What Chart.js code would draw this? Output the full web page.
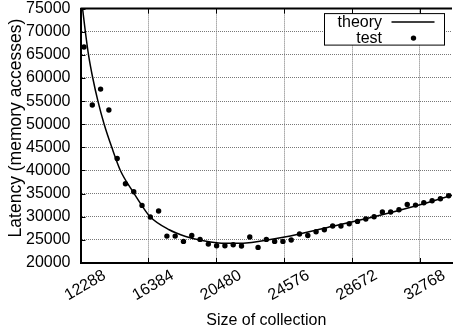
<!DOCTYPE html>
<html>
<head>
<meta charset="utf-8">
<title>Latency vs size of collection</title>
<script src="https://cdn.jsdelivr.net/npm/chart.js@4.4.0/dist/chart.umd.min.js"></script>
<style>
  html, body { margin: 0; padding: 0; background: #fff; }
  #wrap { width: 456px; height: 333px; position: relative; }
</style>
</head>
<body>
<div id="wrap"><canvas id="latencyChart"></canvas></div>
<script>
// measured latency per collection size
const sizes = [12500, 13000, 13500, 14000, 14500, 15000, 15500, 16000, 16500, 17000,
  17500, 18000, 18500, 19000, 19500, 20000, 20500, 21000, 21500, 22000,
  22500, 23000, 23500, 24000, 24500, 25000, 25500, 26000, 26500, 27000,
  27500, 28000, 28500, 29000, 29500, 30000, 30500, 31000, 31500, 32000,
  32500, 33000, 33500, 34000, 34500];
const latency = [66700, 54150, 57600, 53070, 42600, 37130, 35400, 32450, 29930, 31230,
  25820, 25820, 24670, 25960, 25100, 24090, 23730, 23730, 23950, 23660,
  25610, 23370, 25100, 24670, 24670, 24960, 26260, 25960, 26760, 27190,
  27990, 27990, 28490, 28990, 29500, 30000, 31010, 31010, 31510, 32660,
  32520, 33030, 33460, 33890, 34540];

// model curve
const theorySizes = [12288, 12413, 12581, 12772, 13028, 13340, 13715, 14175, 14694, 15470,
  15984, 16486, 17638, 18635, 19626, 20623, 21600, 22612, 24606, 27191,
  30000, 32768, 34700];
const theoryLatency = [78300, 75000, 70000, 65000, 60000, 55000, 50000, 45000, 40000, 35300,
  32440, 30000, 27190, 25740, 24850, 24350, 24250, 24450, 25610, 27690,
  30000, 32600, 34650];

const xTicks = [12288, 16384, 20480, 24576, 28672, 32768];
const yTicks = [20000, 25000, 30000, 35000, 40000, 45000, 50000, 55000, 60000, 65000, 70000, 75000];
const seriesNames = ['theory', 'test'];
const yTitle = 'Latency (memory accesses)';

const FONT = "'Liberation Sans', Arial, Helvetica, sans-serif";
Chart.defaults.font.family = FONT;
Chart.defaults.font.size = 16;
Chart.defaults.color = '#000';

// top border, inward tick marks, y title and the boxed key
const framePlugin = {
  id: 'frame',
  afterDraw(chart) {
    const { ctx, chartArea: a, scales: { x, y } } = chart;
    ctx.save();
    ctx.strokeStyle = '#000';
    ctx.lineWidth = 1;
    ctx.beginPath();
    xTicks.forEach(v => {
      const px = Math.round(x.getPixelForValue(v)) + 0.5;
      ctx.moveTo(px, a.bottom); ctx.lineTo(px, a.bottom - 5);
      ctx.moveTo(px, a.top); ctx.lineTo(px, a.top + 5);
    });
    yTicks.forEach(v => {
      const py = Math.round(y.getPixelForValue(v)) + 0.5;
      ctx.moveTo(a.left, py); ctx.lineTo(a.left + 5, py);
    });
    ctx.stroke();

    ctx.lineWidth = 2;
    ctx.beginPath();
    ctx.moveTo(a.left, a.top);
    ctx.lineTo(a.right, a.top);
    ctx.stroke();

    // y axis title, a little above the plot centre
    ctx.fillStyle = '#000';
    ctx.save();
    ctx.translate(16, 128);
    ctx.rotate(-Math.PI / 2);
    ctx.font = '17.5px ' + FONT;
    ctx.textAlign = 'center';
    ctx.textBaseline = 'middle';
    ctx.fillText(yTitle, 0, 0);
    ctx.restore();

    // key box
    const bx = a.right - 127.5, by = a.top + 5, bw = 120, bh = 31.5;
    ctx.fillStyle = '#fff';
    ctx.fillRect(bx, by, bw, bh);
    ctx.lineWidth = 1;
    ctx.strokeRect(bx, by, bw, bh);
    ctx.fillStyle = '#000';
    ctx.font = '16px ' + FONT;
    ctx.textAlign = 'right';
    ctx.textBaseline = 'middle';
    const tx = bx + 57.5, row1 = by + 8.5, row2 = by + 24.5;
    ctx.fillText(seriesNames[0], tx, row1);
    ctx.fillText(seriesNames[1], tx, row2);
    ctx.lineWidth = 1.5;
    ctx.beginPath();
    ctx.moveTo(bx + 67, row1);
    ctx.lineTo(bx + 110, row1);
    ctx.stroke();
    ctx.beginPath();
    ctx.arc(bx + 89, row2, 2.7, 0, Math.PI * 2);
    ctx.fill();
    ctx.restore();
  }
};

new Chart(document.getElementById('latencyChart'), {
  type: 'line',
  data: {
    datasets: [{
      label: seriesNames[0],
      data: theorySizes.map((s, i) => ({ x: s, y: theoryLatency[i] })),
      borderColor: '#000',
      borderWidth: 1.5,
      pointRadius: 0,
      cubicInterpolationMode: 'monotone',
      fill: false
    }, {
      label: seriesNames[1],
      data: sizes.map((s, i) => ({ x: s, y: latency[i] })),
      showLine: false,
      pointRadius: 2.7,
      pointBorderWidth: 0,
      pointBackgroundColor: '#000',
      borderColor: '#000'
    }]
  },
  options: {
    responsive: true,
    maintainAspectRatio: false,
    animation: false,
    layout: { padding: { top: 8.6, left: 0, right: 0, bottom: 0 } },
    plugins: {
      legend: { display: false },
      tooltip: { enabled: false }
    },
    scales: {
      x: {
        type: 'linear',
        min: 12288,
        max: 34700,
        afterBuildTicks: scale => { scale.ticks = xTicks.map(v => ({ value: v })); },
        afterFit: scale => {
          scale.height = 70;
          scale.paddingLeft = 0;
          scale.paddingRight = 0;
        },
        ticks: {
          autoSkip: false,
          minRotation: 30,
          maxRotation: 30,
          padding: 3,
          labelOffset: 24,
          callback: v => String(v)
        },
        grid: { color: '#777', drawTicks: false, tickLength: 0 },
        border: { display: true, color: '#000', width: 2, dash: [1, 1] },
        title: {
          display: true,
          text: 'Size of collection',
          padding: { top: 0, bottom: 2.4 }
        }
      },
      y: {
        min: 20000,
        max: 75000,
        afterBuildTicks: scale => { scale.ticks = yTicks.map(v => ({ value: v })); },
        afterFit: scale => {
          scale.width = 80.5;
          scale.paddingTop = 0;
          scale.paddingBottom = 0;
        },
        ticks: {
          padding: 10,
          callback: v => String(v)
        },
        grid: { color: '#777', drawTicks: false, tickLength: 0 },
        border: { display: true, color: '#000', width: 2, dash: [1, 1] }
      }
    }
  },
  plugins: [framePlugin]
});
</script>
</body>
</html>
